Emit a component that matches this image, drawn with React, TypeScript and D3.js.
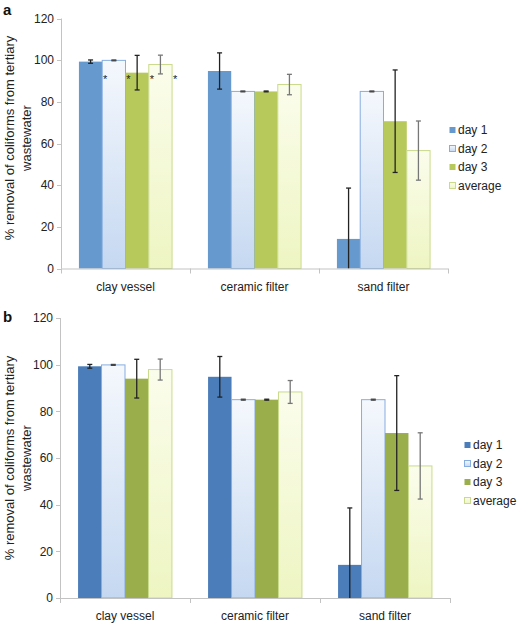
import React from "react";
import * as d3 from "d3";

const categories = ["clay vessel", "ceramic filter", "sand filter"];
const seriesNames = ["day 1", "day 2", "day 3", "average"];
const yTicks = [0, 20, 40, 60, 80, 100, 120];

// values [category][series]
const day1Values = [99.3, 94.8, 14.2];
const day2Values = [99.9, 85.0, 85.0];
const day3Values = [94.0, 85.0, 70.7];
const averageValues = [97.9, 88.3, 56.6];

const day1Errors = [0.8, 8.7, 24.4];
const day2Errors = [0.2, 0.2, 0.2];
const day3Errors = [8.3, 0.2, 24.6];
const averageErrors = [4.5, 4.9, 14.2];

// asterisks shown in panel a next to clay vessel bars
const asteriskCategory = "clay vessel";
const asteriskSeries = ["day 1", "day 2", "day 3", "average"];
const asteriskLevel = 92.5;

const yTitle1 = "% removal of coliforms from tertiary";
const yTitle2 = "wastewater";

const FONT = "'Liberation Sans', Arial, sans-serif";

type PanelProps = {
  id: string;
  label: string;
  labelY: number;
  x0: number;
  x1: number;
  yTop: number;
  yBottom: number;
  day1Color: string;
  day3Color: string;
  legendX: number;
  legendY: number;
  showAsterisks: boolean;
  titleCenter: number;
};

function Panel(p: PanelProps) {
  const values = [day1Values, day2Values, day3Values, averageValues];
  const errors = [day1Errors, day2Errors, day3Errors, averageErrors];
  const x = d3.scaleBand<string>().domain(categories).range([p.x0, p.x1]).padding(0);
  const inner = d3
    .scaleBand<string>()
    .domain(seriesNames)
    .range([0, x.bandwidth()])
    .paddingInner(0)
    .paddingOuter(0.77);
  const y = d3.scaleLinear().domain([0, 120]).range([p.yBottom, p.yTop]);
  const bw = inner.bandwidth();

  const fills = [
    p.day1Color,
    `url(#${p.id}-g2)`,
    p.day3Color,
    `url(#${p.id}-g4)`,
  ];
  const strokes = [p.day1Color, "#86ade0", p.day3Color, "#c9da8a"];
  const errColors = ["#222", "#444", "#222", "#777"];
  const axisColor = "#c3c3c3";

  return (
    <g>
      <defs>
        <linearGradient id={`${p.id}-g2`} x1="0" y1="0" x2="0" y2="1">
          <stop offset="0" stopColor="#f5f8fd" />
          <stop offset="1" stopColor="#c5d8f1" />
        </linearGradient>
        <linearGradient id={`${p.id}-g4`} x1="0" y1="0" x2="0" y2="1">
          <stop offset="0" stopColor="#fbfdec" />
          <stop offset="1" stopColor="#eef5c2" />
        </linearGradient>
      </defs>
      <text x={3} y={p.labelY} fontFamily={FONT} fontWeight="bold" fontSize={15} fill="#111">
        {p.label}
      </text>
      {/* y axis title */}
      <g transform={`translate(0, ${p.titleCenter}) rotate(-90)`}>
        <text x={0} y={14} textAnchor="middle" fontFamily={FONT} fontSize={13} fill="#222">
          {yTitle1}
        </text>
        <text x={0} y={31} textAnchor="middle" fontFamily={FONT} fontSize={13} fill="#222">
          {yTitle2}
        </text>
      </g>
      {/* y axis */}
      <line x1={p.x0 + 0.5} x2={p.x0 + 0.5} y1={p.yTop} y2={p.yBottom} stroke={axisColor} />
      {yTicks.map((t) => (
        <g key={t}>
          <line x1={p.x0 - 4} x2={p.x0} y1={Math.round(y(t)) + 0.5} y2={Math.round(y(t)) + 0.5} stroke={axisColor} />
          <text
            x={p.x0 - 7}
            y={y(t)}
            dy="0.35em"
            textAnchor="end"
            fontFamily={FONT}
            fontSize={12}
            fill="#222"
          >
            {t}
          </text>
        </g>
      ))}
      {/* bars */}
      {categories.map((c, ci) =>
        seriesNames.map((s, si) => {
          const v = values[si][ci];
          const bx = (x(c) as number) + (inner(s) as number);
          return (
            <rect
              key={c + s}
              x={bx}
              y={y(v)}
              width={bw}
              height={y(0) - y(v)}
              fill={fills[si]}
              stroke={strokes[si]}
              strokeWidth={si === 0 || si === 2 ? 0 : 1}
            />
          );
        })
      )}
      {/* error bars */}
      {categories.map((c, ci) =>
        seriesNames.map((s, si) => {
          const v = values[si][ci];
          const e = errors[si][ci];
          const cx = (x(c) as number) + (inner(s) as number) + bw / 2;
          const hi = y(v + e);
          const lo = y(Math.max(0, v - e));
          const col = errColors[si];
          return (
            <g key={"e" + c + s} stroke={col} strokeWidth={1.3}>
              <line x1={cx} x2={cx} y1={hi} y2={lo} />
              <line x1={cx - 2.5} x2={cx + 2.5} y1={hi} y2={hi} />
              {v - e > 0 && <line x1={cx - 2.5} x2={cx + 2.5} y1={lo} y2={lo} />}
            </g>
          );
        })
      )}
      {/* x axis */}
      <line x1={p.x0} x2={p.x1} y1={p.yBottom + 0.5} y2={p.yBottom + 0.5} stroke={axisColor} />
      {categories.map((c, i) => (
        <line
          key={"t" + c}
          x1={(x(c) as number) + x.bandwidth() + 0.5}
          x2={(x(c) as number) + x.bandwidth() + 0.5}
          y1={p.yBottom}
          y2={p.yBottom + 5}
          stroke={axisColor}
        />
      ))}
      <line x1={p.x0 + 0.5} x2={p.x0 + 0.5} y1={p.yBottom} y2={p.yBottom + 5} stroke={axisColor} />
      {categories.map((c) => (
        <text
          key={"l" + c}
          x={(x(c) as number) + x.bandwidth() / 2}
          y={p.yBottom + 22}
          textAnchor="middle"
          fontFamily={FONT}
          fontSize={12}
          fill="#222"
        >
          {c}
        </text>
      ))}
      {/* asterisks */}
      {p.showAsterisks &&
        asteriskSeries.map((s) => (
          <text
            key={"a" + s}
            x={(x(asteriskCategory) as number) + (inner(s) as number) + bw + 3}
            y={y(asteriskLevel) + 7}
            textAnchor="middle"
            fontFamily={FONT}
            fontSize={11}
            fill="#222"
          >
            *
          </text>
        ))}
      {/* legend */}
      {seriesNames.map((s, i) => {
        const cy = p.legendY + i * 18.5;
        return (
          <g key={"lg" + s}>
            <rect
              x={p.legendX + 0.5}
              y={cy - 3}
              width={6}
              height={6}
              fill={fills[i]}
              stroke={strokes[i]}
              strokeWidth={i === 0 || i === 2 ? 0 : 1}
            />
            <text x={p.legendX + 9} y={cy} dy="0.35em" fontFamily={FONT} fontSize={12} fill="#222">
              {s}
            </text>
          </g>
        );
      })}
    </g>
  );
}

export default function App() {
  return (
    <svg
      width={520}
      height={625}
      style={{ position: "absolute", left: 0, top: 0, background: "#fff" }}
    >
      <rect width={520} height={625} fill="#fff" />
      <Panel
        id="pa"
        label="a"
        labelY={15}
        x0={61}
        x1={448}
        yTop={18.5}
        yBottom={268.5}
        day1Color="#6699cd"
        day3Color="#b8c95c"
        legendX={449}
        legendY={130}
        showAsterisks={true}
        titleCenter={138}
      />
      <Panel
        id="pb"
        label="b"
        labelY={322}
        x0={60}
        x1={450}
        yTop={318}
        yBottom={598}
        day1Color="#4a7dba"
        day3Color="#9aae4c"
        legendX={464}
        legendY={445}
        showAsterisks={false}
        titleCenter={458}
      />
    </svg>
  );
}
